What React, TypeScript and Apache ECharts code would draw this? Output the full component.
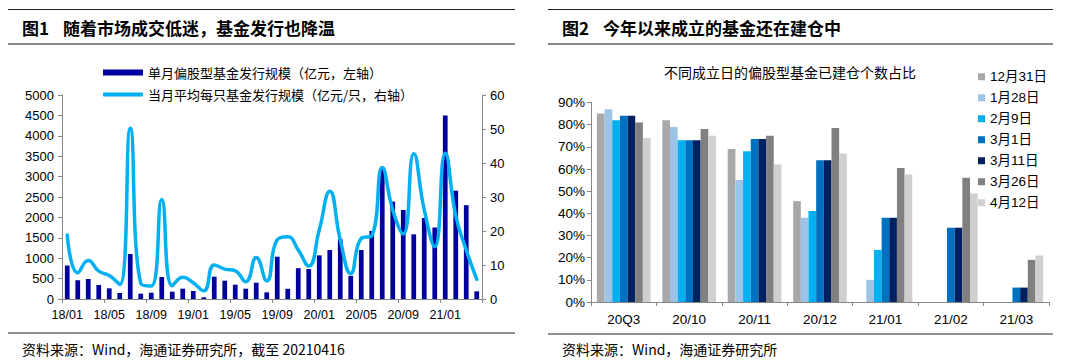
import React, { useEffect, useRef } from 'react';
import * as echarts from 'echarts';

// ---------- Chart 1 data ----------
const months = [
  '18/01', '18/02', '18/03', '18/04', '18/05', '18/06', '18/07', '18/08', '18/09', '18/10', '18/11', '18/12',
  '19/01', '19/02', '19/03', '19/04', '19/05', '19/06', '19/07', '19/08', '19/09', '19/10', '19/11', '19/12',
  '20/01', '20/02', '20/03', '20/04', '20/05', '20/06', '20/07', '20/08', '20/09', '20/10', '20/11', '20/12',
  '21/01', '21/02', '21/03', '21/04',
];
const monthlyIssuance = [
  820, 460, 490, 343, 261, 147, 1105, 130, 155, 539, 180, 253,
  196, 41, 547, 449, 351, 253, 400, 163, 1037, 250, 755, 735,
  1070, 1200, 1465, 568, 1200, 1667, 3225, 2386, 2181, 1585, 1985, 1752,
  4500, 2656, 2300, 188,
];
const avgIssuance = [
  18.8, 7.7, 11.3, 8.2, 6.9, 4.3, 50.2, 4.6, 3.8, 29.3, 3.9, 6.4,
  4.8, 2.4, 10, 8.8, 8.3, 5.1, 12.2, 5.3, 17.4, 18.3, 14.4, 9.7,
  20.3, 31.7, 17.4, 7.5, 17.8, 18.6, 38.7, 26.2, 19.1, 42.7, 26.2, 15.4,
  42.9, 24.5, 14.4, 5.8,
];
const barName = '单月偏股型基金发行规模（亿元，左轴）';
const lineName = '当月平均每只基金发行规模（亿元/只，右轴）';

// ---------- Chart 2 data ----------
const periods = ['20Q3', '20/10', '20/11', '20/12', '21/01', '21/02', '21/03'];
const buildDates = ['12月31日', '1月28日', '2月9日', '3月1日', '3月11日', '3月26日', '4月12日'];
const s1231 = [85, 82, 69, 45.5, null, null, null];
const s0128 = [87, 79, 55, 38, 10, null, null];
const s0209 = [82, 73, 68, 41, 23.5, null, null];
const s0301 = [84, 73, 73.5, 64, 38, 33.5, 6.5];
const s0311 = [84, 73, 73.5, 64, 38, 33.5, 6.5];
const s0326 = [81, 78, 75, 78.5, 60.5, 56, 19];
const s0412 = [74, 75, 62, 67, 57.5, 49, 21];
const chart2Series = [s1231, s0128, s0209, s0301, s0311, s0326, s0412];
const chart2Colors = ['#A9A8A8', '#9DC3E6', '#00B0F0', '#0070C0', '#002060', '#808080', '#D0CECE'];

const SANS = '"Liberation Sans", Arial, "Noto Sans CJK SC", sans-serif';
const CJK = '"Noto Sans CJK SC", "Liberation Sans", sans-serif';

export default function App() {
  const ref = useRef<HTMLDivElement>(null);

  useEffect(() => {
    if (!ref.current) return;
    const chart = echarts.init(ref.current, undefined, { renderer: 'svg' });

    const hline = (x1: number, x2: number, y: number, color: string, w: number) => ({
      type: 'line',
      shape: { x1, y1: y, x2, y2: y },
      style: { stroke: color, lineWidth: w },
      silent: true,
    });
    const txt = (x: number, y: number, text: string, size: number, weight: string | number, family: string) => ({
      type: 'text',
      x,
      y,
      style: { text, fill: '#000', fontSize: size, fontWeight: weight, fontFamily: family, align: 'left', verticalAlign: 'middle' },
      silent: true,
    });

    const option: any = {
      animation: false,
      backgroundColor: '#fff',
      textStyle: { fontFamily: SANS },
      graphic: [
        hline(8, 515, 9.5, '#222', 1),
        hline(8, 515, 44, '#888', 2),
        hline(8, 515, 333, '#222', 1),
        hline(548, 1053, 9.5, '#222', 1),
        hline(548, 1053, 44, '#888', 2),
        hline(548, 1053, 334, '#222', 1),
        txt(22, 27, '图1', 17, 'bold', CJK),
        txt(63, 27, '随着市场成交低迷，基金发行也降温', 17, 'bold', CJK),
        txt(562, 27, '图2', 17, 'bold', CJK),
        txt(603, 27, '今年以来成立的基金还在建仓中', 17, 'bold', CJK),
        txt(22, 349, '资料来源：Wind，海通证券研究所，截至 20210416', 14, 'normal', CJK),
        txt(562, 349, '资料来源：Wind，海通证券研究所', 14, 'normal', CJK),
        txt(664, 72, '不同成立日的偏股型基金已建仓个数占比', 14, 'normal', CJK),
      ],
      legend: [
        {
          orient: 'vertical',
          left: 98,
          top: 61,
          itemWidth: 40,
          itemHeight: 6,
          textStyle: { fontSize: 13, color: '#000', fontFamily: CJK },
          data: [{ name: barName, icon: 'rect' }],
        },
        {
          orient: 'vertical',
          left: 98,
          top: 83,
          itemWidth: 40,
          itemHeight: 4,
          textStyle: { fontSize: 13, color: '#000', fontFamily: CJK },
          data: [{ name: lineName, icon: 'roundRect' }],
        },
        {
          orient: 'vertical',
          left: 973,
          top: 65,
          itemWidth: 7,
          itemHeight: 7,
          itemGap: 7.5,
          textStyle: { fontSize: 13.5, color: '#000', fontFamily: SANS },
          data: buildDates.map((d) => ({ name: d, icon: 'rect' })),
        },
      ],
      grid: [
        { left: 62, top: 95, width: 420, height: 204 },
        { left: 591, top: 102.5, width: 458, height: 199.5 },
      ],
      xAxis: [
        {
          type: 'category',
          gridIndex: 0,
          data: months,
          boundaryGap: true,
          axisLine: { lineStyle: { color: '#868686', width: 1 } },
          axisTick: { show: true, interval: 3, length: 4, inside: false, lineStyle: { color: '#868686' } },
          axisLabel: { interval: 3, fontSize: 12.5, color: '#000', margin: 10, fontFamily: SANS },
        },
        {
          type: 'category',
          gridIndex: 1,
          data: periods,
          boundaryGap: true,
          axisLine: { lineStyle: { color: '#868686', width: 1 } },
          axisTick: { show: true, length: 4, lineStyle: { color: '#868686' } },
          axisLabel: { fontSize: 13.5, color: '#000', margin: 11, fontFamily: SANS },
        },
      ],
      yAxis: [
        {
          type: 'value',
          gridIndex: 0,
          min: 0,
          max: 5000,
          interval: 500,
          axisLine: { show: true, lineStyle: { color: '#868686' } },
          axisTick: { show: true, length: 4, lineStyle: { color: '#868686' } },
          splitLine: { show: false },
          axisLabel: { fontSize: 13, color: '#000', margin: 8, fontFamily: SANS, formatter: (v: number) => String(v) },
        },
        {
          type: 'value',
          gridIndex: 0,
          position: 'right',
          min: 0,
          max: 60,
          interval: 10,
          axisLine: { show: true, lineStyle: { color: '#868686' } },
          axisTick: { show: true, length: 4, lineStyle: { color: '#868686' } },
          splitLine: { show: false },
          axisLabel: { fontSize: 13, color: '#000', margin: 8, fontFamily: SANS },
        },
        {
          type: 'value',
          gridIndex: 1,
          min: 0,
          max: 90,
          interval: 10,
          axisLine: { show: true, lineStyle: { color: '#868686' } },
          axisTick: { show: true, length: 4, lineStyle: { color: '#868686' } },
          splitLine: { show: false },
          axisLabel: { fontSize: 13.5, color: '#000', margin: 6, fontFamily: SANS, formatter: '{value}%' },
        },
      ],
      series: [
        {
          name: barName,
          type: 'bar',
          xAxisIndex: 0,
          yAxisIndex: 0,
          data: monthlyIssuance,
          barWidth: '45%',
          itemStyle: { color: '#00009E' },
        },
        {
          name: lineName,
          type: 'line',
          xAxisIndex: 0,
          yAxisIndex: 1,
          data: avgIssuance,
          smooth: 0.5,
          symbol: 'none',
          lineStyle: { color: '#00B0F0', width: 3.5, cap: 'round' },
          itemStyle: { color: '#00B0F0' },
        },
        ...chart2Series.map((d, i) => ({
          name: buildDates[i],
          type: 'bar',
          xAxisIndex: 1,
          yAxisIndex: 2,
          data: d,
          barGap: '0%',
          barCategoryGap: '18%',
          itemStyle: { color: chart2Colors[i] },
        })),
      ],
    };

    chart.setOption(option);
    return () => chart.dispose();
  }, []);

  return (
    <div
      ref={ref}
      style={{ position: 'fixed', left: 0, top: 0, width: 1080, height: 361, background: '#fff' }}
    />
  );
}
